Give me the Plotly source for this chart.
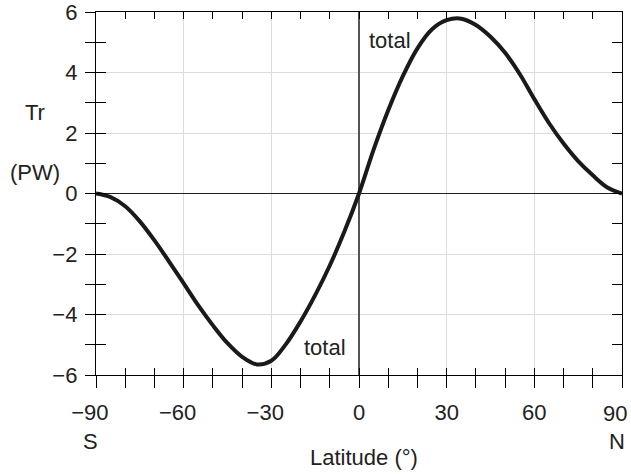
import plotly.graph_objects as go

# Latitude (degrees) and total meridional heat transport (PW)
lat = list(range(-90, 91, 5))
transport = [0, -0.12, -0.42, -0.92, -1.55, -2.25, -2.97, -3.7, -4.36, -4.95,
             -5.4, -5.65, -5.53, -4.98, -4.23, -3.36, -2.38, -1.26,
             0,
             1.45, 2.75, 3.88, 4.8, 5.43, 5.73, 5.78, 5.57, 5.18, 4.65,
             3.95, 3.12, 2.33, 1.65, 1.07, 0.6, 0.2, 0]

x_major = [-90, -60, -30, 0, 30, 60, 90]
x_major_text = ["\u221290\u00a0\u00a0", "\u221260\u00a0\u00a0", "\u221230\u00a0\u00a0",
                "0", "30", "60", ""]
x_last_label = "90"
x_minor = list(range(-90, 91, 10))
y_major = [-6, -4, -2, 0, 2, 4, 6]
y_major_text = ["\u22126", "\u22124", "\u22122", "0", "2", "4", "6"]
y_minor = list(range(-6, 7, 1))

FONT = "Liberation Sans, Arial, Helvetica, sans-serif"
FS = 22
INK = "#222222"

fig = go.Figure()
fig.add_trace(go.Scatter(
    x=lat, y=transport, mode="lines",
    line=dict(color="#1a1a1a", width=4, shape="spline", smoothing=1.0),
    showlegend=False, hoverinfo="skip"))
# invisible companion trace so the overlay (tick-only) axes are drawn
fig.add_trace(go.Scatter(
    x=lat, y=transport, mode="lines", xaxis="x2", yaxis="y2",
    line=dict(color="rgba(0,0,0,0)", width=0),
    showlegend=False, hoverinfo="skip"))

fig.update_layout(
    width=631, height=474,
    margin=dict(l=96, r=9, t=12, b=99, autoexpand=False),
    paper_bgcolor="white", plot_bgcolor="white",
    font=dict(family=FONT, size=FS, color=INK),
    showlegend=False,
    xaxis=dict(
        range=[-90, 90], tickmode="array", tickvals=x_major, ticktext=x_major_text,
        ticks="outside", ticklen=12, tickwidth=1.3, tickcolor="black",
        minor=dict(tickmode="array", tickvals=x_minor, ticks="outside", ticklen=12,
                   tickwidth=1.3, tickcolor="black", showgrid=False),
        showgrid=True, gridcolor="#dcdcdc", gridwidth=1,
        zeroline=True, zerolinecolor="#555555", zerolinewidth=1.5,
        showline=True, linecolor="black", linewidth=1.3,
        ticklabeloverflow="allow", ticklabelstandoff=5, automargin=False,
        tickfont=dict(size=FS, color=INK, family=FONT),
    ),
    xaxis2=dict(
        range=[-90, 90], overlaying="x", anchor="y2", side="bottom",
        tickmode="array", tickvals=x_minor, showticklabels=False,
        ticks="inside", ticklen=7, tickwidth=1.3, tickcolor="black",
        showgrid=False, zeroline=False, automargin=False,
        showline=True, linecolor="black", linewidth=1.3, mirror="ticks",
    ),
    yaxis=dict(
        range=[-6, 6], tickmode="array", tickvals=y_major, ticktext=y_major_text,
        ticks="outside", ticklen=10, tickwidth=1.3, tickcolor="black",
        minor=dict(tickmode="array", tickvals=y_minor, ticks="outside", ticklen=10,
                   tickwidth=1.3, tickcolor="black", showgrid=False),
        showgrid=True, gridcolor="#dcdcdc", gridwidth=1,
        zeroline=True, zerolinecolor="#222222", zerolinewidth=1.3,
        showline=True, linecolor="black", linewidth=1.3,
        ticklabeloverflow="allow", ticklabelstandoff=3, automargin=False,
        tickfont=dict(size=FS, color=INK, family=FONT),
    ),
    yaxis2=dict(
        range=[-6, 6], overlaying="y", anchor="x2", side="left",
        tickmode="array", tickvals=y_minor, showticklabels=False,
        ticks="inside", ticklen=10, tickwidth=1.3, tickcolor="black",
        showgrid=False, zeroline=False, automargin=False,
        showline=True, linecolor="black", linewidth=1.3, mirror="ticks",
    ),
)

ann_font = dict(family=FONT, size=FS, color=INK)
def ann(x, y, xref, yref, text, xshift=0, xanchor="center"):
    fig.add_annotation(x=x, y=y, xref=xref, yref=yref, text=text, showarrow=False,
                       font=ann_font, xanchor=xanchor, yanchor="middle", xshift=xshift)

ann(10.5, 5.05, "x", "y", "total")
ann(-11.7, -5.1, "x", "y", "total")
ann(-0.116, 0.722, "paper", "paper", "Tr")
ann(-0.116, 0.559, "paper", "paper", "(PW)")
# end-of-axis label kept inside the page (the reference shifts it left of the tick)
ann(x_major[-1], -0.105, "x", "paper", x_last_label, xshift=7, xanchor="right")
ann(-90, -0.182, "x", "paper", "S", xshift=-6)
ann(90, -0.182, "x", "paper", "N", xshift=-5)
ann(0.51, -0.226, "paper", "paper", "Latitude (\u00b0)")

fig.write_html("out.html")
